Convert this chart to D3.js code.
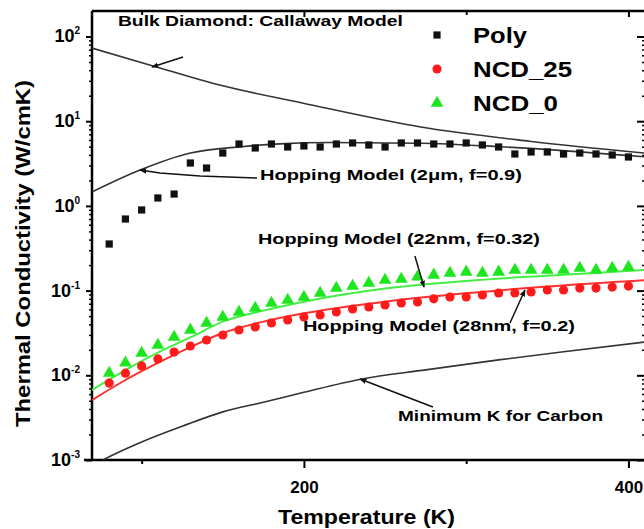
<!DOCTYPE html>
<html lang="en">
<head>
<meta charset="UTF-8">
<title>Thermal Conductivity vs Temperature</title>
<script src="https://d3js.org/d3.v7.min.js"></script>
<style>
    body { margin: 0; background: #fff; }
    svg { display: block; font-family: 'Liberation Sans', Arial, sans-serif; font-weight: bold; }
</style>
</head>
<body>
<script>

// measured data, temperature in K
var temps = [80, 90, 100, 110, 120, 130, 140, 150, 160, 170, 180, 190, 200, 210, 220, 230, 240,
             250, 260, 270, 280, 290, 300, 310, 320, 330, 340, 350, 360, 370, 380, 390, 400];
var polyK = [0.355, 0.70, 0.895, 1.24, 1.38, 3.21, 2.80, 4.21, 5.38, 4.83, 5.38, 4.96, 5.10, 4.96, 5.38, 5.53, 5.24,
             4.96, 5.53, 5.53, 5.38, 5.38, 5.53, 5.24, 4.96, 4.10, 4.33, 4.33, 4.10, 4.21, 4.10, 3.99, 3.78];
var ncd25K = [0.0081, 0.0106, 0.0129, 0.0156, 0.0188, 0.0222, 0.0261, 0.0299, 0.0343, 0.0372, 0.0414, 0.0450, 0.0488,
              0.0515, 0.0559, 0.0606, 0.0640, 0.0676, 0.0714, 0.0733, 0.0800, 0.0840, 0.0840, 0.0887, 0.0937, 0.0937,
              0.0962, 0.1016, 0.1016, 0.107, 0.107, 0.110, 0.113];
var ncd0K = [0.0106, 0.0140, 0.0183, 0.0228, 0.0283, 0.0343, 0.0414, 0.0488, 0.0559, 0.0623, 0.0714, 0.0775, 0.0840,
             0.0937, 0.107, 0.113, 0.123, 0.133, 0.137, 0.145, 0.153, 0.161, 0.166, 0.161, 0.166, 0.175,
             0.175, 0.175, 0.175, 0.185, 0.175, 0.185, 0.190];

// model curves
var callawayT = [69.4, 107, 148, 199, 272, 339, 410];
var callawayK = [73, 44.9, 26.7, 16.4, 8.54, 5.8, 4.21];
var hop2umT = [69.4, 99, 130, 161, 185, 216, 272, 321, 410];
var hop2umK = [1.46, 2.65, 4.21, 5.0, 5.4, 5.6, 5.5, 5.0, 3.8];
var hop22nmT = [69.4, 90, 110, 130, 150, 175, 200, 250, 300, 350, 410];
var hop22nmK = [0.0067, 0.0115, 0.0185, 0.0280, 0.0430, 0.058, 0.074, 0.106, 0.130, 0.150, 0.175];
var hop28nmT = [69.4, 90, 110, 130, 150, 175, 200, 250, 300, 350, 410];
var hop28nmK = [0.0051, 0.0088, 0.0140, 0.0215, 0.0316, 0.043, 0.054, 0.074, 0.093, 0.112, 0.133];
var minKT = [69.4, 80, 100, 125, 150, 175, 200, 235, 275, 320, 360, 410];
var minKK = [0.00085, 0.00109, 0.00163, 0.0025, 0.0037, 0.0048, 0.0063, 0.0090, 0.0116, 0.0152, 0.0190, 0.0247];

// ticks
var xTickLabels = [200, 400];
var xMinorTicks = [100, 300];
var yTickExps = [2, 1, 0, -1, -2, -3];

var legendNames = ['Poly', 'NCD_25', 'NCD_0'];

var w = 644, h = 529;
var pLeft = 92, pRight = 645, pTop = 11, pBottom = 460;

var svg = d3.select('body').append('svg')
    .attr('width', w)
    .attr('height', h);

var xScale = d3.scaleLinear().domain([69.4, 410.2]).range([pLeft, pRight]);
var yScale = d3.scaleLog().domain([1e-3, 200]).range([pBottom, pTop]);

var defs = svg.append('defs');
defs.append('clipPath').attr('id', 'plot')
    .append('rect')
    .attr('x', pLeft).attr('y', pTop)
    .attr('width', pRight - pLeft).attr('height', pBottom - pTop);

// arrow head
defs.append('marker')
    .attr('id', 'head')
    .attr('viewBox', '0 0 10 10')
    .attr('refX', 9).attr('refY', 5)
    .attr('markerWidth', 7).attr('markerHeight', 7)
    .attr('markerUnits', 'userSpaceOnUse')
    .attr('orient', 'auto')
    .append('path')
    .attr('d', 'M0,1 L10,5 L0,9 Z')
    .attr('fill', '#111');

//minor log ticks
var yMinor = [];
yTickExps.forEach(function (e) {
    for (var m = 2; m <= 9; m++) {
        var v = m * Math.pow(10, e);
        if (v < 200) yMinor.push(v);
    }
});
var yMajor = yTickExps.map(function (e) { return Math.pow(10, e); });

function styleAxis(g) {
    g.select('.domain').remove();
    g.selectAll('.tick line').attr('stroke', '#000').attr('stroke-width', 2);
}

// left axis
svg.append('g').attr('transform', 'translate(' + pLeft + ',0)')
    .call(d3.axisLeft(yScale).tickValues(yMajor).tickSize(6).tickFormat(''))
    .call(styleAxis);
svg.append('g').attr('transform', 'translate(' + pLeft + ',0)')
    .call(d3.axisLeft(yScale).tickValues(yMinor).tickSize(3).tickFormat(''))
    .call(styleAxis)
    .selectAll('.tick line').attr('stroke-width', 1.5);

// right axis, ticks inside
svg.append('g').attr('transform', 'translate(' + pRight + ',0)')
    .call(d3.axisRight(yScale).tickValues(yMajor).tickSize(-8).tickFormat(''))
    .call(styleAxis);
svg.append('g').attr('transform', 'translate(' + pRight + ',0)')
    .call(d3.axisRight(yScale).tickValues(yMinor).tickSize(-3).tickFormat(''))
    .call(styleAxis)
    .selectAll('.tick line').attr('stroke-width', 1.5);

// y tick labels 10^n
var yLab = svg.append('g').selectAll('text')
    .data(yTickExps)
    .enter().append('text')
    .attr('x', 80)
    .attr('y', function (d) { return yScale(Math.pow(10, d)) + 6; })
    .attr('text-anchor', 'end')
    .attr('font-size', 18)
    .attr('fill', '#000');
yLab.append('tspan').text('10');
yLab.append('tspan').attr('font-size', 10).attr('dy', -8).text(function (d) { return d; });

// bottom axis
svg.append('g').attr('transform', 'translate(0,' + pBottom + ')')
    .call(d3.axisBottom(xScale).tickValues(xTickLabels).tickSize(8).tickPadding(13).tickFormat(d3.format('d')))
    .call(styleAxis)
    .selectAll('text')
    .attr('font-size', 17).attr('font-weight', 'bold').attr('fill', '#000');
svg.append('g').attr('transform', 'translate(0,' + pBottom + ')')
    .call(d3.axisBottom(xScale).tickValues(xMinorTicks).tickSize(4).tickFormat(''))
    .call(styleAxis);

// top axis, ticks inside
svg.append('g').attr('transform', 'translate(0,' + pTop + ')')
    .call(d3.axisTop(xScale).tickValues(xTickLabels).tickSize(-6).tickFormat(''))
    .call(styleAxis);
svg.append('g').attr('transform', 'translate(0,' + pTop + ')')
    .call(d3.axisTop(xScale).tickValues(xMinorTicks).tickSize(-4).tickFormat(''))
    .call(styleAxis);

// frame
svg.append('line').attr('x1', pLeft - 8).attr('x2', pRight).attr('y1', pBottom).attr('y2', pBottom)
    .attr('stroke', '#000').attr('stroke-width', 2.5);
svg.append('line').attr('x1', pLeft).attr('x2', pLeft).attr('y1', pTop).attr('y2', pBottom)
    .attr('stroke', '#000').attr('stroke-width', 2.5);
svg.append('line').attr('x1', pLeft).attr('x2', pRight).attr('y1', pTop).attr('y2', pTop)
    .attr('stroke', '#000').attr('stroke-width', 2.5);

// axis titles
svg.append('text')
    .attr('x', 278).attr('y', 524)
    .attr('font-size', 21)
    .attr('textLength', 177)
    .attr('lengthAdjust', 'spacingAndGlyphs')
    .text('Temperature (K)');
svg.append('text')
    .attr('transform', 'translate(30,427) rotate(-90)')
    .attr('font-size', 21)
    .attr('textLength', 347)
    .attr('lengthAdjust', 'spacingAndGlyphs')
    .text('Thermal Conductivity (W/cmK)');

// model lines
var line = d3.line()
    .x(function (d) { return xScale(d[0]); })
    .y(function (d) { return yScale(d[1]); })
    .curve(d3.curveMonotoneX);

var curves = [
    [callawayT, callawayK, '#333', 1.6],
    [hop2umT, hop2umK, '#333', 1.6],
    [minKT, minKK, '#333', 1.6],
    [hop22nmT, hop22nmK, '#44ee44', 2],
    [hop28nmT, hop28nmK, '#ff3030', 2]
];
var plot = svg.append('g').attr('clip-path', 'url(#plot)');
curves.forEach(function (c) {
    plot.append('path')
        .datum(d3.zip(c[0], c[1]))
        .attr('d', line)
        .attr('fill', 'none')
        .attr('stroke', c[2])
        .attr('stroke-width', c[3]);
});

// measured points
var series = [
    [polyK, d3.symbolSquare, 52, '#111'],
    [ncd25K, d3.symbolCircle, 66, '#ff1a1a'],
    [ncd0K, d3.symbolTriangle, 70, '#1ee61e']
];
series.forEach(function (s) {
    plot.append('g').selectAll('path')
        .data(d3.zip(temps, s[0]))
        .enter().append('path')
        .attr('transform', function (d) { return 'translate(' + xScale(d[0]) + ',' + yScale(d[1]) + ')'; })
        .attr('d', d3.symbol().type(s[1]).size(s[2]))
        .attr('fill', s[3]);
});

// legend
var legendWidths = [54, 99, 85];
var leg = svg.append('g');
legendNames.forEach(function (name, i) {
    var yy = 35 + i * 34;
    leg.append('path')
        .attr('transform', 'translate(437,' + yy + ')')
        .attr('d', d3.symbol().type(series[i][1]).size(series[i][2]))
        .attr('fill', series[i][3]);
    leg.append('text')
        .attr('x', 473).attr('y', yy + 8)
        .attr('font-size', 22)
        .attr('textLength', legendWidths[i])
        .attr('lengthAdjust', 'spacingAndGlyphs')
        .text(name);
});

// annotations in data coordinates
function px(t, k) { return [xScale(t), yScale(k)]; }
function note(txt, t, k, width) {
    var p = px(t, k);
    svg.append('text')
        .attr('x', p[0]).attr('y', p[1])
        .attr('font-size', 15)
        .attr('textLength', width)
        .attr('lengthAdjust', 'spacingAndGlyphs')
        .text(txt);
}
function arrow(pts) {
    svg.append('path')
        .attr('d', d3.line()(pts.map(function (p) { return px(p[0], p[1]); })))
        .attr('fill', 'none')
        .attr('stroke', '#111')
        .attr('stroke-width', 1.5)
        .attr('marker-end', 'url(#head)');
}

note('Bulk Diamond: Callaway Model', 85.4, 133, 285);
arrow([[125.5, 57.3], [106.4, 43.6]]);

note('Hopping  Model (2\u03bcm, f=0.9)', 172.9, 2.02, 262);
arrow([[171.1, 2.13], [136, 2.25], [111.3, 2.44], [99, 2.65]]);

note('Hopping  Model (22nm, f=0.32)', 171.7, 0.355, 282);
arrow([[268.4, 0.256], [274, 0.110]]);

note('Hopping  Model (28nm, f=0.2)', 199.4, 0.0333, 272);
arrow([[327, 0.0414], [336.2, 0.1016]]);

note('Minimum K for Carbon', 258, 0.00289, 205);
arrow([[279.5, 0.00423], [234.6, 0.00904]]);

</script>
</body>
</html>
